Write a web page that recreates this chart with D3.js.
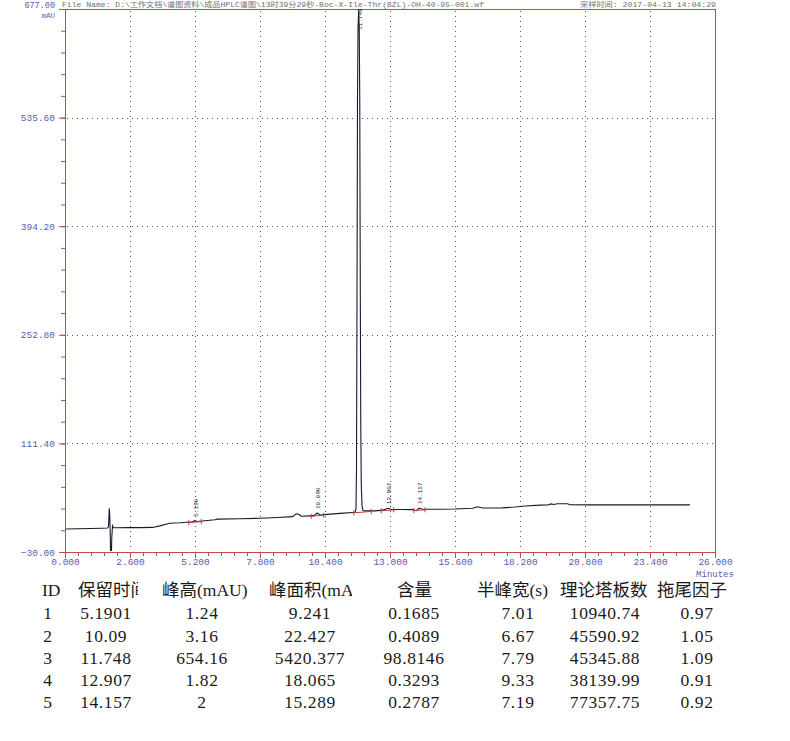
<!DOCTYPE html>
<html><head><meta charset="utf-8">
<script src="https://cdn.jsdelivr.net/npm/d3@7"></script>
<style>
html,body{margin:0;padding:0;background:#fff;}
svg{display:block;}
</style></head>
<body>
<svg id="chart" width="790" height="741"></svg>
<script>
// ---- data ----
const traceTimes = [0,0.5,1.0,1.5,1.70,1.74,1.77,1.79,1.81,1.83,1.85,1.87,1.90,1.94,2.0,2.6,3.0,3.5,3.8,4.1,4.2,4.6,5.0,5.10,5.19,5.30,5.5,6.0,6.1,7.0,7.8,8.5,9.1,9.25,9.35,9.45,9.8,9.95,10.09,10.2,10.5,11.0,11.5,11.60,11.64,11.66,11.68,11.70,11.72,11.748,11.77,11.79,11.81,11.83,11.85,11.88,11.92,12.0,12.4,12.7,12.907,13.05,13.5,13.9,14.05,14.157,14.3,15.0,15.6,16.3,16.5,16.7,17.5,18.0,18.4,19.0,19.3,19.45,19.55,19.7,20.1,20.2,21.0,25.0];
const traceValues = [0.0,0.2,0.5,1.0,1.3,3,27,18,-8,-45,-45,-12,4,1.5,1.6,1.7,1.8,2.0,4.0,6.8,7.4,8.0,9.0,9.3,10.8,9.8,10.4,12.0,12.8,13.3,13.9,15.0,16.0,19.8,19.2,16.5,17.0,17.3,20.8,18.2,19.0,20.3,21.5,21.8,26,80,300,560,650,676,650,560,330,140,60,30,24,23.5,23.5,24.5,27.0,25.5,25.4,25.2,23.8,27.2,25.6,25.6,26.0,27.0,28.8,27.2,27.4,28.5,29.8,31.0,31.2,32.6,31.8,32.8,32.8,31.6,31.4,31.4];

const xTicks = [0, 2.6, 5.2, 7.8, 10.4, 13.0, 15.6, 18.2, 20.8, 23.4, 26.0];
const yTicks = [-30, 111.4, 252.8, 394.2, 535.6, 677];

// peak table
const peakIds = [1, 2, 3, 4, 5];
const retentionTimes = [5.1901, 10.09, 11.748, 12.907, 14.157];
const peakHeights = [1.24, 3.16, 654.16, 1.82, 2];
const peakAreas = [9.241, 22.427, 5420.377, 18.065, 15.289];
const contents = [0.1685, 0.4089, 98.8146, 0.3293, 0.2787];
const halfWidths = [7.01, 6.67, 7.79, 9.33, 7.19];
const plateNumbers = [10940.74, 45590.92, 45345.88, 38139.99, 77357.75];
const tailingFactors = [0.97, 1.05, 1.09, 0.91, 0.92];
const tableHeaders = ["ID", "保留时间", "峰高(mAU)", "峰面积(mAU*s)", "含量", "半峰宽(s)", "理论塔板数", "拖尾因子"];
// integration windows [start, end] per peak
const peakStarts = [4.95, 9.85, 11.55, 12.65, 13.95];
const peakEnds = [5.45, 10.35, 12.25, 13.15, 14.4];

const fileNameText = "File Name: D:\\工作文档\\谱图资料\\成品HPLC谱图\\13时39分29秒-Boc-X-Ile-Thr(BZL)-OH-40-95-001.wf";
const sampleTimeText = "采样时间: 2017-04-13 14:04:29";

// ---- layout ----
const svg = d3.select("#chart");
const L = 65, R = 715, T = 9, B = 552;
const x = d3.scaleLinear().domain([0, 26]).range([L, R]);
const y = d3.scaleLinear().domain([-30, 677]).range([B, T]);
const axisColor = "#c24a4a";
const labelColor = "#5b5bb0";
const monoFont = "'Liberation Mono', 'DejaVu Sans Mono', monospace";

// header texts
svg.append("text").attr("x", 62).attr("y", 7).attr("font-size", 7.2)
  .attr("font-family", "'Liberation Mono', 'Noto Sans CJK SC'").attr("fill", "#707070")
  .attr("textLength", 422).attr("lengthAdjust", "spacingAndGlyphs").text(fileNameText);
svg.append("text").attr("x", 580).attr("y", 7).attr("font-size", 7.2)
  .attr("font-family", "'Liberation Mono', 'Noto Sans CJK SC'").attr("fill", "#707070")
  .attr("textLength", 136).attr("lengthAdjust", "spacingAndGlyphs").text(sampleTimeText);

// gridlines
const grid = svg.append("g");
grid.selectAll("line.v").data(xTicks.slice(1, -1)).join("line")
  .attr("x1", d => Math.round(x(d)) + 0.5).attr("x2", d => Math.round(x(d)) + 0.5).attr("y1", T + 2).attr("y2", B - 2)
  .attr("stroke", "#555").attr("stroke-width", 1).attr("stroke-dasharray", "1,4");
grid.selectAll("line.h").data(yTicks.slice(1, -1)).join("line")
  .attr("y1", d => Math.round(y(d)) + 0.5).attr("y2", d => Math.round(y(d)) + 0.5).attr("x1", L + 2).attr("x2", R - 2)
  .attr("stroke", "#555").attr("stroke-width", 1).attr("stroke-dasharray", "1,4");

// axes
const minorX = d3.range(0, 26.001, 0.52);
const minorY = d3.range(-30, 677.001, 28.28);
const xAxis = svg.append("g").attr("transform", `translate(0,${B})`)
  .call(d3.axisBottom(x).tickValues(minorX).tickSize(4).tickFormat(""));
xAxis.append("g").call(d3.axisBottom(x).tickValues(xTicks).tickSize(6).tickFormat(d3.format(".3f")));
xAxis.selectAll("path,line").attr("stroke", axisColor);
xAxis.selectAll("text").attr("fill", labelColor).attr("font-family", monoFont).attr("font-size", 9.5).attr("dy", "0.4em");

const yAxis = svg.append("g").attr("transform", `translate(${L},0)`)
  .call(d3.axisLeft(y).tickValues(minorY).tickSize(4).tickFormat(""));
yAxis.append("g").call(d3.axisLeft(y).tickValues(yTicks).tickSize(6).tickFormat(d3.format(".2f")));
yAxis.selectAll("path,line").attr("stroke", axisColor);
yAxis.selectAll("text").attr("fill", labelColor).attr("font-family", monoFont).attr("font-size", 9.5).attr("x", -10);
// top label sits slightly higher, as in the reference
yAxis.selectAll("text").filter(d => d === 677).attr("font-size", 8.5).attr("dy", "-0.15em");

svg.append("text").attr("x", 55).attr("y", 18).attr("text-anchor", "end").attr("font-family", monoFont)
  .attr("font-size", 7.5).attr("fill", labelColor).text("mAU");
svg.append("text").attr("x", x(26)).attr("y", 577).attr("text-anchor", "middle").attr("font-family", monoFont)
  .attr("font-size", 9).attr("fill", labelColor).text("Minutes");

// frame top and right
svg.append("line").attr("x1", L).attr("x2", R).attr("y1", T + 0.5).attr("y2", T + 0.5).attr("stroke", axisColor);
svg.append("line").attr("x1", R + 0.5).attr("x2", R + 0.5).attr("y1", T).attr("y2", B).attr("stroke", axisColor);

// clip
svg.append("clipPath").attr("id", "plotclip").append("rect").attr("x", L + 1).attr("y", T).attr("width", R - L - 1).attr("height", B - T - 1);

// trace
const traceData = traceTimes.map((t, i) => [t, traceValues[i]]);
const line = d3.line().x(d => x(d[0])).y(d => y(d[1]));
svg.append("path").datum(traceData).attr("clip-path", "url(#plotclip)")
  .attr("d", line).attr("fill", "none").attr("stroke", "#1c1830").attr("stroke-width", 1.1);

// integration baselines (red)
const interp = t => {
  const i = d3.bisector(d => d).left(traceTimes, t);
  if (i <= 0) return traceValues[0];
  const t0 = traceTimes[i - 1], t1 = traceTimes[i];
  const v0 = traceValues[i - 1], v1 = traceValues[i];
  return v0 + (v1 - v0) * (t - t0) / (t1 - t0);
};
const integ = svg.append("g");
peakStarts.forEach((s, i) => {
  const e = peakEnds[i];
  const vs = interp(s), ve = interp(e);
  integ.append("line").attr("x1", x(s)).attr("x2", x(e)).attr("y1", y(vs) + 0.5).attr("y2", y(ve) + 0.5)
    .attr("stroke", "#c23c3c").attr("stroke-width", 1);
  integ.append("line").attr("x1", x(s)).attr("x2", x(s)).attr("y1", y(vs) - 2).attr("y2", y(vs) + 3)
    .attr("stroke", "#c23c3c").attr("stroke-width", 1);
  integ.append("line").attr("x1", x(e)).attr("x2", x(e)).attr("y1", y(ve) - 2).attr("y2", y(ve) + 3)
    .attr("stroke", "#c23c3c").attr("stroke-width", 1);
});

// peak labels
retentionTimes.forEach((rt, i) => {
  const px = x(rt) + 3;
  const top = i === 2 ? 30 : y(interp(rt)) - 4;
  svg.append("text").attr("transform", `translate(${px},${top}) rotate(-90)`)
    .attr("font-family", monoFont).attr("font-size", 6).attr("fill", "#222")
    .text(rt.toFixed(3));
});

// ---- table ----
const tableFont = "'Liberation Serif', 'Noto Sans CJK SC', serif";
const headerX = [42, 78, 162, 269, 397, 477, 560, 657];
const headerClip = [null, 138, null, 352, null, null, null, null];
const colCenters = [48, 106, 202, 310, 414, 518, 605, 697];
const headerY = 596;
const rowYs = [619, 642, 664, 686, 708];
const tbl = svg.append("g").attr("font-family", tableFont).attr("font-size", 17.5).attr("fill", "#1a1a1a");
tableHeaders.forEach((h, i) => {
  if (headerClip[i]) {
    svg.append("clipPath").attr("id", "hc" + i).append("rect")
      .attr("x", headerX[i] - 2).attr("y", 570).attr("width", headerClip[i] - headerX[i] + 2).attr("height", 40);
  }
  const t = tbl.append("text").attr("x", headerX[i]).attr("y", headerY).text(h);
  if (headerClip[i]) t.attr("clip-path", `url(#hc${i})`);
});
const columns = [peakIds, retentionTimes, peakHeights, peakAreas, contents, halfWidths, plateNumbers, tailingFactors];
columns.forEach((col, c) => {
  col.forEach((v, r) => {
    tbl.append("text").attr("x", colCenters[c]).attr("y", rowYs[r]).attr("text-anchor", "middle")
      .attr("letter-spacing", 0.6).text(String(v));
  });
});
</script>
</body></html>
